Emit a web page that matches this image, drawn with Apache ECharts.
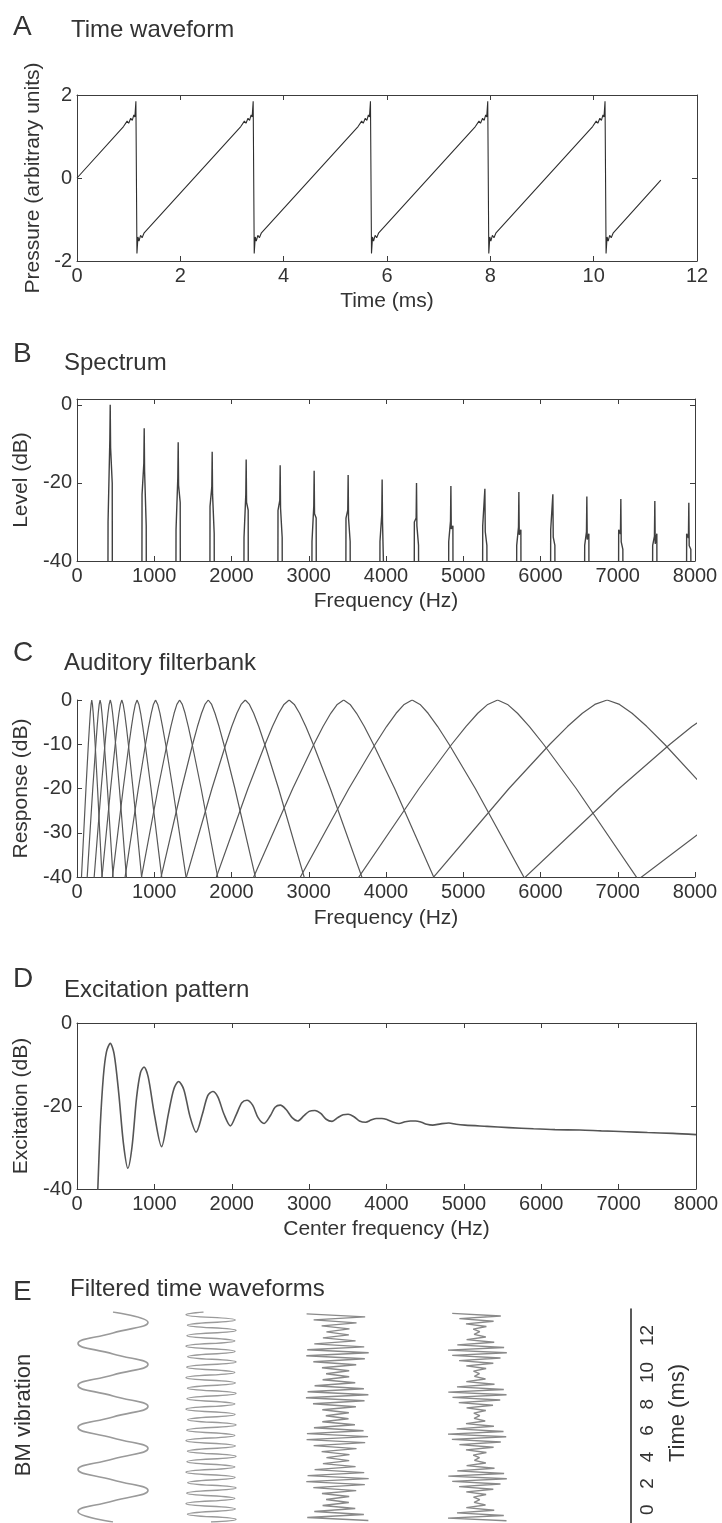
<!DOCTYPE html>
<html><head><meta charset="utf-8">
<script src="https://cdn.jsdelivr.net/npm/echarts@6/dist/echarts.min.js"></script>
<style>html,body{margin:0;padding:0;background:#fff}#c{width:722px;height:1523px}</style>
</head><body><div id="c"></div>
<script>
// ---------------- DATA ----------------
// Panel A: time waveform [time ms, pressure]
const waveformA = [[0,0],[0.9,1.24],[0.97,1.37],[1.0,1.32],[1.04,1.44],[1.07,1.39],[1.1,1.52],[1.12,1.47],[1.14,1.85],[1.16,-1.82],[1.18,-1.42],[1.2,-1.52],[1.23,-1.38],[1.26,-1.44],[1.3,-1.32],
[3.17,1.24],[3.24,1.37],[3.27,1.32],[3.31,1.44],[3.34,1.39],[3.37,1.52],[3.39,1.47],[3.41,1.85],[3.43,-1.82],[3.45,-1.42],[3.47,-1.52],[3.5,-1.38],[3.53,-1.44],[3.57,-1.32],
[5.44,1.24],[5.51,1.37],[5.54,1.32],[5.58,1.44],[5.61,1.39],[5.64,1.52],[5.66,1.47],[5.68,1.85],[5.7,-1.82],[5.72,-1.42],[5.74,-1.52],[5.77,-1.38],[5.8,-1.44],[5.84,-1.32],
[7.71,1.24],[7.78,1.37],[7.81,1.32],[7.85,1.44],[7.88,1.39],[7.91,1.52],[7.93,1.47],[7.95,1.85],[7.97,-1.82],[7.99,-1.42],[8.01,-1.52],[8.04,-1.38],[8.07,-1.44],[8.11,-1.32],
[9.98,1.24],[10.05,1.37],[10.08,1.32],[10.12,1.44],[10.15,1.39],[10.18,1.52],[10.2,1.47],[10.22,1.85],[10.24,-1.82],[10.26,-1.42],[10.28,-1.52],[10.31,-1.38],[10.34,-1.44],[10.38,-1.32],[11.3,-0.05]];

// Panel B: harmonic spectrum
const harmonicFreq  = [430,870,1310,1750,2190,2630,3070,3510,3950,4395,4840,5280,5720,6160,6600,7040,7480,7920];
const harmonicLevel = [0,-6,-9.6,-12,-14,-15.5,-16.9,-18,-19.1,-20,-20.8,-21.5,-22.3,-22.9,-23.5,-24.1,-24.6,-25.1];
const harmonicLeft  = [-30,-23,-32,-26,-34,-27,-35,-29,-35,-30,-35,-31,-36,-32,-36,-32,-36,-33];
const harmonicRight = [-20,-31,-25,-33,-27,-34,-29,-35,-30,-36,-31,-36,-32,-36,-33,-37,-33,-37];

// Panel C: auditory filters, frequency (Hz) at each response level
const filterLevels = [-50,-20,-10,-6,-3,-1,0,-1,-3,-6,-10,-20,-50];
const filterFreqs = [
 [29,116,147,161,172,182,191,200,210,221,235,266,353],
 [96,204,244,261,275,287,299,311,323,337,354,394,503],
 [177,313,362,383,401,416,431,446,461,479,500,549,685],
 [268,435,495,521,543,562,580,598,617,639,665,725,892],
 [390,598,673,705,732,755,778,801,824,851,883,958,1166],
 [537,794,887,927,961,989,1017,1045,1074,1107,1148,1240,1497],
 [728,1049,1165,1215,1257,1293,1328,1363,1399,1441,1491,1607,1928],
 [956,1354,1497,1559,1612,1656,1699,1743,1786,1839,1901,2044,2442],
 [1251,1747,1926,2003,2069,2124,2178,2232,2287,2353,2430,2609,3106],
 [1600,2213,2435,2530,2611,2679,2746,2813,2881,2962,3058,3279,3892],
 [2034,2793,3067,3185,3285,3369,3452,3535,3619,3719,3837,4112,4870],
 [2578,3520,3860,4007,4131,4235,4338,4441,4545,4669,4816,5156,6098],
 [3259,4428,4851,5034,5188,5317,5445,5573,5702,5857,6039,6462,7631],
 [4130,5592,6121,6349,6542,6703,6863,7023,7185,7377,7606,8134,9596],
 [5198,7018,7676,7960,8200,8401,8600,8799,9000,9240,9524,10182,12002],
 [6550,8824,9645,10000,10300,10551,10800,11049,11300,11600,11955,12776,15050]
];

// Panel D: excitation pattern [center freq Hz, dB]
const excitation = [[250,-48],[269,-40],[300,-25],[340,-13],[380,-7],[430,-4.9],[480,-7.5],[540,-17],[600,-29],[657,-35],[710,-30],[770,-18],[820,-12],[866,-10.6],[920,-13],[1000,-22],[1093,-29.8],[1180,-22],[1250,-16],[1313,-14.1],[1380,-16],[1460,-22.5],[1540,-26.3],[1620,-22],[1690,-17.5],[1755,-16.5],[1820,-17.8],[1900,-22],[1982,-24.8],[2060,-22],[2130,-19.2],[2197,-18.6],[2270,-19.8],[2340,-22.8],[2418,-24.2],[2500,-22.3],[2560,-20.3],[2627,-19.8],[2700,-20.8],[2780,-22.8],[2854,-23.6],[2930,-22.4],[3000,-21.3],[3075,-21.1],[3150,-21.8],[3220,-23.2],[3296,-23.7],[3370,-22.8],[3440,-22.1],[3504,-22.0],[3580,-22.6],[3650,-23.6],[3731,-23.9],[3800,-23.4],[3870,-23.0],[3940,-23.0],[4010,-23.3],[4090,-23.9],[4161,-24.2],[4240,-23.8],[4310,-23.6],[4376,-23.6],[4450,-23.9],[4520,-24.4],[4597,-24.6],[4700,-24.3],[4806,-24.1],[4900,-24.4],[5015,-24.6],[5300,-24.9],[5582,-25.2],[5900,-25.5],[6179,-25.7],[6500,-25.8],[6776,-26.0],[7100,-26.2],[7373,-26.4],[7700,-26.6],[8000,-26.9]];

// Panel E: filtered waveforms (time ms, relative displacement)
const e1Time = [0,0.568,1.136,1.705,2.273,2.841,3.409,3.977,4.545,5.114,5.682,6.25,6.818,7.386,7.955,8.523,9.091,9.659,10.227,10.795,11.36];
const e1Amp  = [0,-1,0,1,0,-1,0,1,0,-1,0,1,0,-1,0,1,0,-1,0,1,0];
const e2Time = [0,0.142,0.426,0.71,0.994,1.278,1.562,1.846,2.13,2.414,2.698,2.982,3.266,3.55,3.834,4.118,4.402,4.686,4.97,5.254,5.538,5.822,6.106,6.39,6.674,6.958,7.242,7.526,7.81,8.094,8.378,8.662,8.946,9.23,9.514,9.798,10.082,10.366,10.65,10.934,11.218,11.36];
const e2Amp  = [0,1,-0.94,0.97,-1,0.95,-0.97,1,-0.93,0.96,-1,0.95,-0.96,1,-0.94,0.97,-1,0.95,-0.97,1,-0.93,0.96,-1,0.95,-0.96,1,-0.94,0.97,-1,0.95,-0.97,1,-0.93,0.96,-1,0.95,-0.96,1,-0.94,0.97,-1,-0.3];
const e3Time = [0.08,0.242,0.404,0.566,0.728,0.89,1.052,1.214,1.376,1.538,1.7,1.862,2.024,2.186,2.348,2.51,2.672,2.834,2.996,3.158,3.32,3.482,3.644,3.806,3.968,4.13,4.292,4.454,4.616,4.778,4.94,5.102,5.264,5.426,5.588,5.75,5.912,6.074,6.236,6.398,6.56,6.722,6.884,7.046,7.208,7.37,7.532,7.694,7.856,8.018,8.18,8.342,8.504,8.666,8.828,8.99,9.152,9.314,9.476,9.638,9.8,9.962,10.124,10.286,10.448,10.61,10.772,10.934,11.096,11.258];
const e3Amp  = [0.98,-0.93,0.84,-0.71,0.57,-0.45,0.37,-0.34,0.38,-0.47,0.6,-0.74,0.87,-0.96,
 0.99,-0.92,0.85,-0.7,0.58,-0.44,0.38,-0.33,0.39,-0.48,0.61,-0.73,0.88,-0.95,
 0.97,-0.94,0.83,-0.72,0.56,-0.46,0.36,-0.35,0.37,-0.46,0.59,-0.75,0.86,-0.97,
 0.98,-0.92,0.84,-0.7,0.57,-0.45,0.38,-0.34,0.38,-0.47,0.6,-0.74,0.87,-0.96,
 0.99,-0.93,0.85,-0.71,0.58,-0.44,0.37,-0.33,0.39,-0.48,0.61,-0.73,0.88,-0.95];
const e4Time = [0.07,0.212,0.354,0.496,0.638,0.78,0.922,1.064,1.206,1.348,1.49,1.632,1.774,1.916,2.058,2.2,2.342,2.484,2.626,2.768,2.91,3.052,3.194,3.336,3.478,3.62,3.762,3.904,4.046,4.188,4.33,4.472,4.614,4.756,4.898,5.04,5.182,5.324,5.466,5.608,5.75,5.892,6.034,6.176,6.318,6.46,6.602,6.744,6.886,7.028,7.17,7.312,7.454,7.596,7.738,7.88,8.022,8.164,8.306,8.448,8.59,8.732,8.874,9.016,9.158,9.3,9.442,9.584,9.726,9.868,10.01,10.152,10.294,10.436,10.578,10.72,10.862,11.004,11.146,11.288];
const e4Amp  = [0.95,-1.0,0.86,-0.7,0.54,-0.39,0.25,-0.13,0.06,-0.15,0.27,-0.39,0.51,-0.63,0.75,-0.86,
 0.96,-0.99,0.87,-0.69,0.55,-0.38,0.26,-0.12,0.05,-0.16,0.28,-0.4,0.52,-0.62,0.76,-0.87,
 0.94,-1.0,0.85,-0.71,0.53,-0.4,0.24,-0.13,0.06,-0.14,0.26,-0.38,0.5,-0.64,0.74,-0.85,
 0.95,-0.99,0.86,-0.7,0.55,-0.39,0.25,-0.12,0.05,-0.15,0.27,-0.39,0.51,-0.63,0.75,-0.86,
 0.96,-1.0,0.87,-0.69,0.54,-0.38,0.26,-0.13,0.06,-0.16,0.28,-0.4,0.52,-0.62,0.76,-0.86];
const eTimeTickLabels = ['0','2','4','6','8','10','12'];

// Text
const panelLetters = ['A','B','C','D','E'];
const panelTitles = ['Time waveform','Spectrum','Auditory filterbank','Excitation pattern','Filtered time waveforms'];

// ---------------- CHART ----------------
const FONT = '"Liberation Sans", Arial, Helvetica, sans-serif';
const TXT = '#333333';
const AX = '#3c3c3c';
const plain = v => String(v);

const grids = [], xAxes = [], yAxes = [], series = [];

function axisBase(extra) {
  return Object.assign({
    type: 'value',
    axisLine: {show: true, onZero: false, lineStyle: {color: AX, width: 1}},
    axisTick: {show: true, inside: true, length: 5, lineStyle: {color: AX, width: 1}},
    axisLabel: {show: true, color: TXT, fontSize: 20, fontFamily: FONT, margin: 5, showMinLabel: true, showMaxLabel: true, formatter: plain},
    splitLine: {show: false},
    nameLocation: 'middle',
    nameTextStyle: {color: TXT, fontSize: 21, fontFamily: FONT}
  }, extra);
}
function mirror(a, pos) {
  const m = axisBase({gridIndex: a.gridIndex, position: pos, min: a.min, max: a.max, interval: a.interval});
  m.axisLabel = {show: false};
  if (a.axisTick.customValues) m.axisTick = Object.assign({}, m.axisTick, {customValues: a.axisTick.customValues});
  m.name = '';
  return m;
}
function addPanel(grid, xa, ya, box) {
  const gi = grids.length;
  grids.push(Object.assign({outerBoundsMode: 'none', containLabel: false}, grid));
  xa.gridIndex = gi; ya.gridIndex = gi;
  xa.position = 'bottom'; ya.position = 'left';
  const xi = xAxes.length; xAxes.push(xa);
  const yi = yAxes.length; yAxes.push(ya);
  if (box) { xAxes.push(mirror(xa, 'top')); yAxes.push(mirror(ya, 'right')); }
  return {xi, yi};
}
function hiddenPanel(grid, xmin, xmax, ymin, ymax) {
  const gi = grids.length;
  grids.push(Object.assign({outerBoundsMode: 'none', containLabel: false}, grid));
  const xi = xAxes.length; xAxes.push({type: 'value', gridIndex: gi, min: xmin, max: xmax, show: false});
  const yi = yAxes.length; yAxes.push({type: 'value', gridIndex: gi, min: ymin, max: ymax, show: false});
  return {xi, yi};
}
function line(p, data, color, width, smooth) {
  series.push({type: 'line', xAxisIndex: p.xi, yAxisIndex: p.yi, data: data, showSymbol: false, symbol: 'none',
    smooth: smooth || false, clip: true, animation: false, silent: true,
    lineStyle: {color: color, width: width}});
}

// Panel A
const pA = addPanel({left: 77, top: 95, width: 620, height: 166},
  axisBase({min: 0, max: 12, interval: 2, name: 'Time (ms)', nameGap: 30}),
  axisBase({min: -2, max: 2, interval: 2, name: 'Pressure (arbitrary units)', nameGap: 25}), true);
line(pA, waveformA, '#2e2e2e', 1.1);

// Panel B
const pB = addPanel({left: 77, top: 399, width: 618, height: 162},
  axisBase({min: 0, max: 8000, interval: 1000, name: 'Frequency (Hz)', nameGap: 30}),
  axisBase({min: -40, max: 1.5, name: 'Level (dB)', nameGap: 44,
    axisLabel: {show: true, color: TXT, fontSize: 20, fontFamily: FONT, margin: 5, customValues: [-40, -20, 0], formatter: plain},
    axisTick: {show: true, inside: true, length: 5, lineStyle: {color: AX}, customValues: [-40, -20, 0]}}), true);
const spectrumPts = [];
harmonicFreq.forEach((f, i) => {
  const L = harmonicLevel[i];
  spectrumPts.push([f - 30, -50], [f - 28, harmonicLeft[i]], [f - 5, L - 9], [f, L], [f + 5, L - 11], [f + 26, harmonicRight[i]], [f + 28, -50]);
});
line(pB, spectrumPts, '#404040', 1.4);

// Panel C
const pC = addPanel({left: 77, top: 700, width: 618, height: 177},
  axisBase({min: 0, max: 8000, interval: 1000, name: 'Frequency (Hz)', nameGap: 31}),
  axisBase({min: -40, max: 0, interval: 10, name: 'Response (dB)', nameGap: 44}), false);
filterFreqs.forEach(fr => {
  line(pC, fr.map((f, j) => [f, filterLevels[j]]), '#585858', 1.2);
});

// Panel D
const pD = addPanel({left: 77, top: 1023, width: 619, height: 166},
  axisBase({min: 0, max: 8000, interval: 1000, name: 'Center frequency (Hz)', nameGap: 30}),
  axisBase({min: -40, max: 0, interval: 20, name: 'Excitation (dB)', nameGap: 44}), true);
line(pD, excitation, '#555555', 1.6, 0.3);

// Panel E
const pE1 = hiddenPanel({left: 78, top: 1312, width: 70, height: 210}, -1, 1, 0, 11.36);
const pE2 = hiddenPanel({left: 186, top: 1312, width: 50, height: 210}, -1, 1, 0, 11.36);
const pE3 = hiddenPanel({left: 305, top: 1312, width: 64, height: 210}, -1, 1, 0, 11.36);
const pE4 = hiddenPanel({left: 448, top: 1312, width: 60, height: 210}, -1, 1, 0, 11.36);
line(pE1, e1Time.map((t, i) => [e1Amp[i], t]), '#9a9a9a', 1.6, 0.5);
line(pE2, e2Time.map((t, i) => [e2Amp[i], t]), '#9a9a9a', 1.4, 0.5);
line(pE3, e3Time.map((t, i) => [e3Amp[i], t]), '#8a8a8a', 1.4);
line(pE4, e4Time.map((t, i) => [e4Amp[i], t]), '#8a8a8a', 1.4);

// time axis of panel E
{
  const gi = grids.length;
  grids.push({left: 631, top: 1309, width: 10, height: 214, outerBoundsMode: 'none', containLabel: false});
  xAxes.push({type: 'value', gridIndex: gi, min: 0, max: 1, show: false});
  yAxes.push({type: 'value', gridIndex: gi, min: 0, max: 12, position: 'left',
    axisLine: {show: true, onZero: false, lineStyle: {color: '#222', width: 1.5}},
    axisTick: {show: false}, axisLabel: {show: false}, splitLine: {show: false}});
}

function txt(x, y, s, size, rot, align) {
  return {type: 'text', x: x, y: y, rotation: rot || 0, silent: true,
    style: {text: s, fill: TXT, fontSize: size, fontFamily: FONT,
      textAlign: align || 'left', textVerticalAlign: 'middle', align: align || 'left', verticalAlign: 'middle'}};
}
const letterY = [27, 354, 653, 979, 1292];
const titleY = [30, 363, 663, 990, 1289];
const titleX = [71, 64, 64, 64, 70];
const graphics = [];
panelLetters.forEach((l, i) => graphics.push(txt(13, letterY[i], l, 28)));
panelTitles.forEach((t, i) => graphics.push(txt(titleX[i], titleY[i], t, 24)));
graphics.push(txt(24, 1415, 'BM vibration', 22, Math.PI / 2, 'center'));
graphics.push(txt(648, 1420, eTimeTickLabels.join('   '), 19, Math.PI / 2, 'center'));
graphics.push(txt(678, 1413, 'Time (ms)', 22, Math.PI / 2, 'center'));

const chart = echarts.init(document.getElementById('c'), null, {renderer: 'canvas', width: 722, height: 1523});
chart.setOption({
  animation: false,
  backgroundColor: '#ffffff',
  grid: grids, xAxis: xAxes, yAxis: yAxes, series: series,
  graphic: graphics
});
</script></body></html>
